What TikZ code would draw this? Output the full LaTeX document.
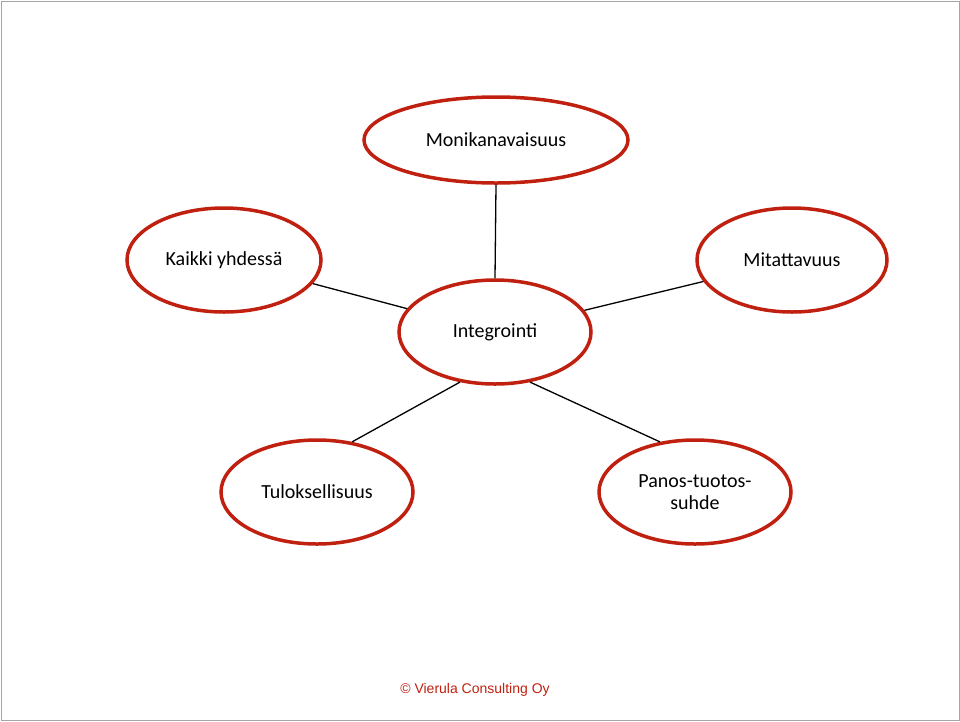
\documentclass[tikz,border=0pt]{standalone}
\usepackage{fontspec}
\setmainfont{Carlito}
\newfontfamily\arialf{Liberation Sans}
\usetikzlibrary{shapes.geometric}
\definecolor{ered}{RGB}{192,32,16}
\begin{document}
\begin{tikzpicture}[x=1pt,y=-1pt,
  bub/.style={ellipse,draw=ered,line width=3.5pt,fill=white,inner sep=0pt,font=\fontsize{20}{22}\selectfont,align=center},
  link/.style={line width=1.3pt,black}]
\useasboundingbox (0,0) rectangle (960,721);
\draw[gray!70,line width=1pt] (1,1) rectangle (959,720);
\node[bub,minimum width=264,minimum height=86] (mon) at (496,140) {Monikanavaisuus};
\node[bub,minimum width=194,minimum height=104] (kai) at (224,260) {Kaikki yhdessä};
\node[bub,minimum width=190,minimum height=104] (mit) at (792,260) {Mitattavuus};
\node[bub,minimum width=192,minimum height=104] (int) at (495,332) {Integrointi};
\node[bub,minimum width=192,minimum height=104] (tul) at (317,492) {Tuloksellisuus};
\node[bub,minimum width=192,minimum height=104] (pan) at (695,492) {Panos-tuotos-\\suhde};
\begin{scope}[on background layer/.try]
\end{scope}
\draw[link] (mon.south) -- (int.north);
\draw[link] (kai) -- (int);
\draw[link] (mit) -- (int);
\draw[link] (tul.55) -- (int.235);
\draw[link] (pan.125) -- (int.305);
\node[font=\arialf\fontsize{14}{16}\selectfont,text=ered] (ft) at (475,690) {© Vierula Consulting Oy};
\end{tikzpicture}
\end{document}
